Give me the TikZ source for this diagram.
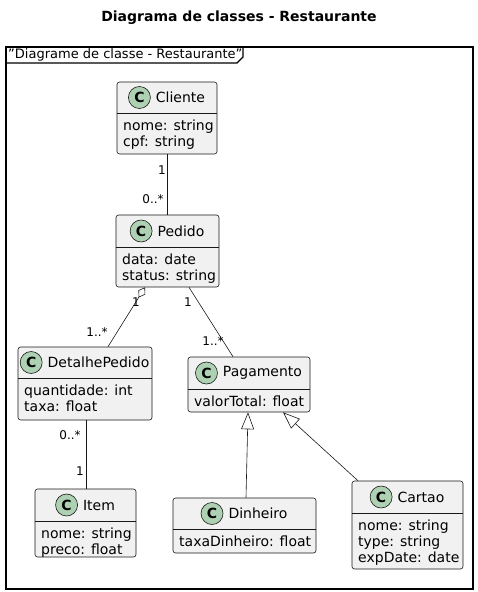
\documentclass[tikz,border=0pt]{standalone}
\usepackage{fontspec}
\setmainfont{DejaVu Sans}
\usetikzlibrary{arrows.meta,fit,positioning}
\definecolor{boxfill}{HTML}{F1F1F1}
\definecolor{boxline}{HTML}{181818}
\definecolor{circfill}{HTML}{ADD1B2}
\tikzset{
  clsbox/.style={draw=boxline, fill=boxfill, rounded corners=2.5pt, line width=0.6pt, inner sep=0pt},
  circ/.style={circle, draw=boxline, fill=circfill, minimum size=22pt, inner sep=0pt, line width=0.6pt, font=\fontsize{14}{14}\selectfont\bfseries},
  clsname/.style={inner sep=0pt, font=\fontsize{14}{16}\selectfont},
  attr/.style={inner sep=0pt, anchor=base west, font=\fontsize{14}{16}\selectfont},
  mult/.style={inner sep=0pt, font=\fontsize{12}{14}\selectfont},
  conn/.style={draw=boxline, line width=0.6pt},
  aggr/.style={conn, {Diamond[open,length=12pt,width=8pt]}-},
  gen/.style={conn, -{Triangle[open,length=17pt,width=13pt]}},
  frameline/.style={draw=black, line width=1.1pt},
}
% #1 name, #2 left, #3 top, #4 right, #5 divider, #6 bottom, #7 title, #8 attribute list
\newcommand\umlclass[8]{%
  \node[clsbox, fit={(#2,#3) (#4,#6)}] (#1) {};
  \draw[conn] (#2,#5) -- (#4,#5);
  \node[clsname] (#1-t) at ({(#2+#4)/2+13.5},{(#3+#5)/2}) {#7};
  \node[circ, left=5pt of #1-t] (#1-c) {C};
  \foreach \t [count=\i] in {#8} {
    \node[attr] (#1-a\i) at ({#2+6},{#5+1+16*\i}) {\t};
  }
}
\begin{document}
\begin{tikzpicture}[x=1pt,y=-1pt]
\useasboundingbox (0,0) rectangle (478,592);
\node[inner sep=0pt, font=\fontsize{14}{16}\selectfont\bfseries] (title) at (239,18) {Diagrama de classes - Restaurante};
% frame
\draw[frameline] (6,47) rectangle (473,589);
\draw[frameline] (6,63) -- (237,63) -- (243,57) -- (243,47);
\node[inner sep=0pt, anchor=west, font=\fontsize{13}{15}\selectfont] (framelabel) at (8,55) {\symbol{34}Diagrame de classe - Restaurante\symbol{34}};
% classes
\umlclass{cliente}{117}{82}{217}{113}{154}{Cliente}{nome: string, cpf: string}
\umlclass{pedido}{116}{215}{219}{247}{287}{Pedido}{data: date, status: string}
\umlclass{detalhe}{18}{347}{152}{378}{420}{DetalhePedido}{quantidade: int, taxa: float}
\umlclass{pagamento}{188}{357}{310}{389}{412}{Pagamento}{valorTotal: float}
\umlclass{item}{35}{489}{136}{521}{557}{Item}{nome: string, preco: float}
\umlclass{dinheiro}{173}{498}{316}{529}{553}{Dinheiro}{taxaDinheiro: float}
\umlclass{cartao}{352}{481}{463}{513}{569}{Cartao}{nome: string, type: string, expDate: date}
% connectors
\draw[conn] (cliente.south) -- (cliente.south |- pedido.north);
\draw[aggr] ([xshift=-22.5pt]pedido.south) -- ([xshift=23pt]detalhe.north);
\draw[conn] ([xshift=21.5pt]pedido.south) -- ([xshift=-16pt]pagamento.south |- pagamento.north);
\draw[conn] ([xshift=1pt]detalhe.south) -- ([xshift=1pt]detalhe.south |- item.north);
\draw[gen] ([xshift=1.5pt]dinheiro.north) -- ([xshift=-1pt]pagamento.south);
\draw[gen] ([xshift=-49.5pt]cartao.north) -- ([xshift=34pt]pagamento.south);
% multiplicities
\node[mult] (m1) at (162,170) {1};
\node[mult] (m2) at (153,199) {0..*};
\node[mult] (m3) at (136,302) {1};
\node[mult] (m4) at (97,332) {1..*};
\node[mult] (m5) at (188,302) {1};
\node[mult] (m6) at (213,341) {1..*};
\node[mult] (m7) at (70,435) {0..*};
\node[mult] (m8) at (80,471) {1};
\end{tikzpicture}
\end{document}
